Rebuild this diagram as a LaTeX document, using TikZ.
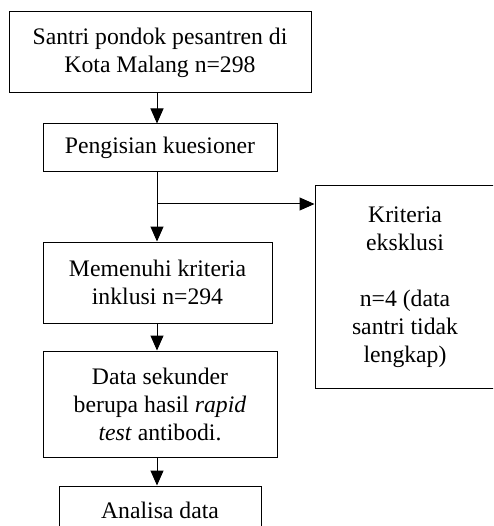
\documentclass[tikz,border=0pt]{standalone}
\usepackage{fontspec}
\setmainfont{Liberation Serif}
\usetikzlibrary{arrows.meta}
\begin{document}
\begin{tikzpicture}[x=1pt,y=-1pt,
  box/.style={draw,line width=1pt,rectangle,align=center,inner sep=0pt,
    font=\fontsize{23.7}{28}\selectfont},
  arr/.style={line width=1pt,-{Triangle[width=13pt,length=15pt]}}]
\useasboundingbox (0,0) rectangle (493,526);
\clip (0,0) rectangle (493,526);
\fill[white] (0,0) rectangle (493,526);
\coordinate (ax) at (157,0);
\node[box,minimum width=302pt,minimum height=81pt] (s1) at (160,52.5) {Santri pondok pesantren di\\Kota Malang n=298};
\node[box,minimum width=234pt,minimum height=48pt] (s2) at (160,148) {Pengisian kuesioner};
\node[box,minimum width=229pt,minimum height=81pt] (s3) at (157.5,282.5) {Memenuhi kriteria\\inklusi n=294};
\node[box,minimum width=234pt,minimum height=106pt] (s4) at (160,404) {Data sekunder\\berupa hasil \textit{rapid}\\\textit{test} antibodi.};
\node[box,minimum width=202pt,minimum height=48pt] (s5) at (160,510) {Analisa data};
\node[box,minimum width=180pt,minimum height=202pt] (ex) at (405,287) {Kriteria\\eksklusi\\[28pt]n=4 (data\\santri tidak\\lengkap)};
\coordinate (br) at (157,204);
\draw[arr] (s1.south -| ax) -- (s2.north -| ax);
\draw[arr] (s2.south -| ax) -- (s3.north -| ax);
\draw[arr] (br) -- (br -| ex.west);
\draw[arr] (s3.south -| ax) -- (s4.north -| ax);
\draw[arr] (s4.south -| ax) -- (s5.north -| ax);
\end{tikzpicture}
\end{document}
